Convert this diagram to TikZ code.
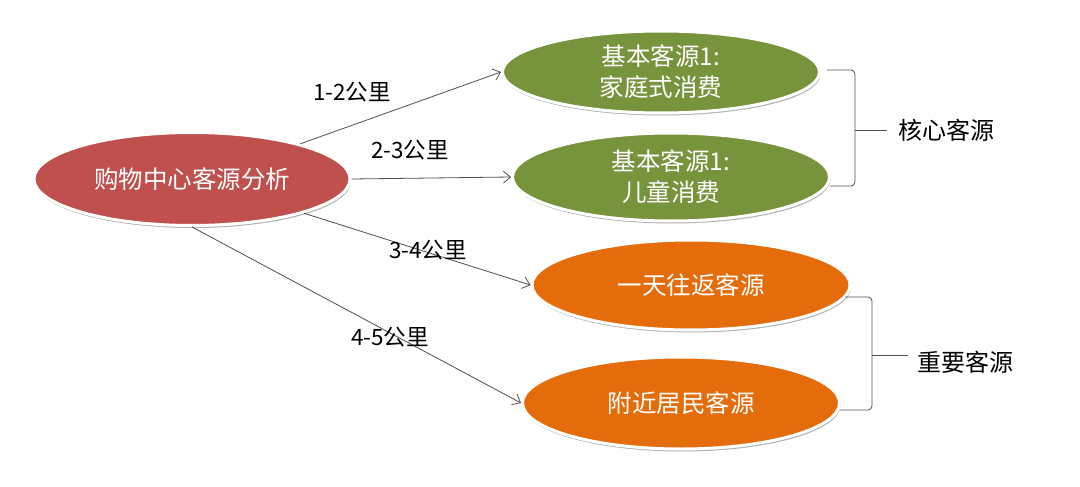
\documentclass[tikz,border=0pt]{standalone}
\usepackage{fontspec}
\setmainfont{Noto Sans CJK SC}
\usetikzlibrary{shapes.geometric,shadows,arrows.meta}
\definecolor{redfill}{RGB}{192,80,77}
\definecolor{greenfill}{RGB}{119,147,60}
\definecolor{orangefill}{RGB}{228,108,10}
\definecolor{linegray}{RGB}{80,80,80}
\tikzset{
  oval/.style={ellipse, inner sep=0pt, draw=white, line width=3pt, text=white,
    align=center, font=\fontsize{24.5}{31}\selectfont,
    drop shadow={shadow xshift=1pt, shadow yshift=-2.5pt, fill=black, opacity=0.3}},
  arr/.style={draw=linegray, line width=0.8pt, -{Straight Barb[length=7pt,width=12pt,line width=0.8pt]}},
  dist/.style={font=\fontsize{22.5}{26}\selectfont, text=black, inner sep=0pt},
  brace/.style={draw=linegray, line width=0.8pt, rounded corners=4pt},
  group/.style={font=\fontsize{24}{28}\selectfont, text=black, inner sep=0pt}
}
\begin{document}
\begin{tikzpicture}[x=1pt,y=-1pt]
\useasboundingbox[fill=white] (0,0) rectangle (1080,487);

\node[oval, fill=redfill, minimum width=316pt, minimum height=93pt] (c) at (192,179) {购物中心客源分析};
\node[oval, fill=greenfill, minimum width=317pt, minimum height=82pt] (g1) at (661,72) {基本客源1:\\家庭式消费};
\node[oval, fill=greenfill, minimum width=317pt, minimum height=88pt] (g2) at (671,177) {基本客源1:\\儿童消费};
\node[oval, fill=orangefill, minimum width=318pt, minimum height=90pt] (o1) at (691,285) {一天往返客源};
\node[oval, fill=orangefill, minimum width=317pt, minimum height=92pt] (o2) at (681,403) {附近居民客源};

\draw[arr] (c.18) -- (g1.west);
\draw[arr] (c.east) -- (g2.west);
\draw[arr] (c.-17) -- (o1.west);
\draw[arr] (c.south) -- (o2.west);

\node[dist] (l1) at (352,92) {1-2公里};
\node[dist] (l2) at (410,150) {2-3公里};
\node[dist] (l3) at (428,250) {3-4公里};
\node[dist] (l4) at (390,337) {4-5公里};

\coordinate (b1a) at (827,70);
\coordinate (b1b) at (855,70);
\coordinate (b1c) at (855,130);
\coordinate (b1d) at (855,186);
\coordinate (b1e) at (830,186);
\coordinate (b1t) at (887,130);
\draw[brace] (b1a) -- (b1b) -- (b1c) -- (b1d) -- (b1e);
\draw[brace] (b1c) -- (b1t);
\node[group, anchor=west] (k1) at (898,130) {核心客源};

\coordinate (b2a) at (845,297);
\coordinate (b2b) at (872,297);
\coordinate (b2c) at (872,355);
\coordinate (b2d) at (872,410);
\coordinate (b2e) at (840,410);
\coordinate (b2t) at (908,355);
\draw[brace] (b2a) -- (b2b) -- (b2c) -- (b2d) -- (b2e);
\draw[brace] (b2c) -- (b2t);
\node[group, anchor=west] (k2) at (917,362) {重要客源};
\end{tikzpicture}
\end{document}
